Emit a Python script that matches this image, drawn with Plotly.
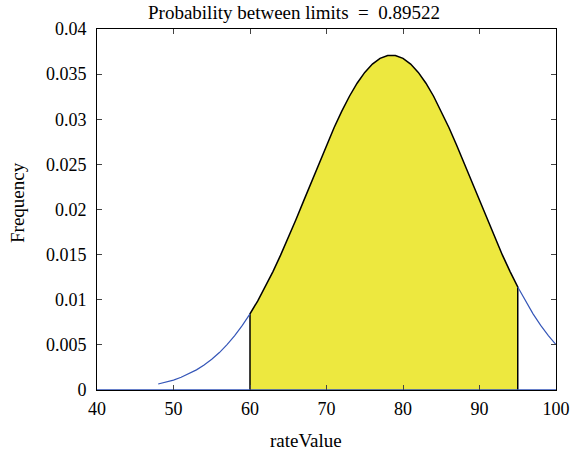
import plotly.graph_objects as go

# Normal density curve values
rate_value = [48, 49, 50, 51, 52, 53, 54, 55, 56, 57, 58, 59, 60, 61, 62, 63, 64, 65,
              66, 67, 68, 69, 70, 71, 72, 73, 74, 75, 76, 77, 78, 78.5, 79, 80, 81,
              82, 83, 84, 85, 86, 87, 88, 89, 90, 91, 92, 93, 94, 95, 96, 97, 98, 99, 100]
frequency = [0.00066, 0.00086, 0.00110, 0.00141, 0.00178, 0.00223, 0.00276, 0.00340,
             0.00415, 0.00502, 0.00602, 0.00716, 0.00844, 0.00986, 0.01142, 0.01312,
             0.01494, 0.01686, 0.01887, 0.02093, 0.02302, 0.02511, 0.02714, 0.02909,
             0.03090, 0.03255, 0.03399, 0.03519, 0.03611, 0.03674, 0.03707, 0.03711,
             0.03707, 0.03674, 0.03611, 0.03519, 0.03399, 0.03255, 0.03090, 0.02909,
             0.02714, 0.02511, 0.02302, 0.02093, 0.01887, 0.01686, 0.01494, 0.01312,
             0.01142, 0.00986, 0.00844, 0.00716, 0.00602, 0.00502]
lower_limit = 60
upper_limit = 95
probability = 0.89522

x_ticks = [40, 50, 60, 70, 80, 90, 100]
y_ticks = [0, 0.005, 0.01, 0.015, 0.02, 0.025, 0.03, 0.035, 0.04]
y_tick_labels = ["0", "0.005", "0.01", "0.015", "0.02", "0.025", "0.03", "0.035", "0.04"]

BLUE = "#3556b8"
YELLOW = "#ede83f"
FONT = "Liberation Serif"

inside = [(x, y) for x, y in zip(rate_value, frequency) if lower_limit <= x <= upper_limit]
ix = [p[0] for p in inside]
iy = [p[1] for p in inside]
left = [(x, y) for x, y in zip(rate_value, frequency) if x <= lower_limit]
right = [(x, y) for x, y in zip(rate_value, frequency) if x >= upper_limit]

fig = go.Figure()
fig.add_trace(go.Scatter(x=[ix[0]] + ix + [ix[-1]], y=[0] + iy + [0], fill="toself",
                         fillcolor=YELLOW, line=dict(width=0), mode="lines",
                         hoverinfo="skip", showlegend=False))
fig.add_trace(go.Scatter(x=[ix[0]] + ix + [ix[-1]], y=[0] + iy + [0], mode="lines",
                         line=dict(color="black", width=1.5), showlegend=False))
fig.add_trace(go.Scatter(x=[p[0] for p in left], y=[p[1] for p in left], mode="lines",
                         line=dict(color=BLUE, width=1.2), showlegend=False))
fig.add_trace(go.Scatter(x=[p[0] for p in right], y=[p[1] for p in right], mode="lines",
                         line=dict(color=BLUE, width=1.2), showlegend=False))
fig.add_trace(go.Scatter(x=[x_ticks[0], x_ticks[-1]], y=[0, 0], mode="lines",
                         line=dict(color=BLUE, width=1.5), showlegend=False))

W, H = 571, 456
L, T, R, B = 97, 29, 15, 66
PW, PH = W - L - R, H - T - B


def px(x):
    return (x - L) / PW


def py(y):
    return (H - B - y) / PH


fig.update_layout(
    width=W, height=H,
    margin=dict(l=L, r=R, t=T, b=B),
    paper_bgcolor="white", plot_bgcolor="white",
    font=dict(family=FONT, size=18, color="black"),
    showlegend=False,
)
fig.add_annotation(text=f"Probability between limits  =  {probability}",
                   xref="paper", yref="paper", x=px(294), y=py(13),
                   xanchor="center", yanchor="middle", borderpad=0,
                   showarrow=False, font=dict(family=FONT, size=19))
fig.add_annotation(text="rateValue", xref="paper", yref="paper",
                   x=px(306), y=py(440), xanchor="center", yanchor="middle",
                   showarrow=False, font=dict(family=FONT, size=19))
fig.add_annotation(text="Frequency", xref="paper", yref="paper", textangle=-90,
                   x=px(18), y=py(203), xanchor="center", yanchor="middle",
                   showarrow=False, font=dict(family=FONT, size=19))
fig.update_xaxes(range=[40, 100], tickvals=x_ticks, ticks="inside", ticklen=5,
                 showline=True, linecolor="black", linewidth=1, mirror="ticks",
                 showgrid=False, zeroline=False, automargin=False, ticklabelstandoff=2)
fig.update_yaxes(range=[0, 0.04], tickvals=y_ticks, ticktext=y_tick_labels,
                 ticks="inside", ticklen=5,
                 showline=True, linecolor="black", linewidth=1, mirror="ticks",
                 showgrid=False, zeroline=False, automargin=False, ticklabelstandoff=6)

fig.write_html(
    "out.html",
    config={"displayModeBar": False},
    post_script="document.body.style.margin='0';"
                "document.documentElement.style.overflow='hidden';"
                "document.body.style.overflow='hidden';",
)
